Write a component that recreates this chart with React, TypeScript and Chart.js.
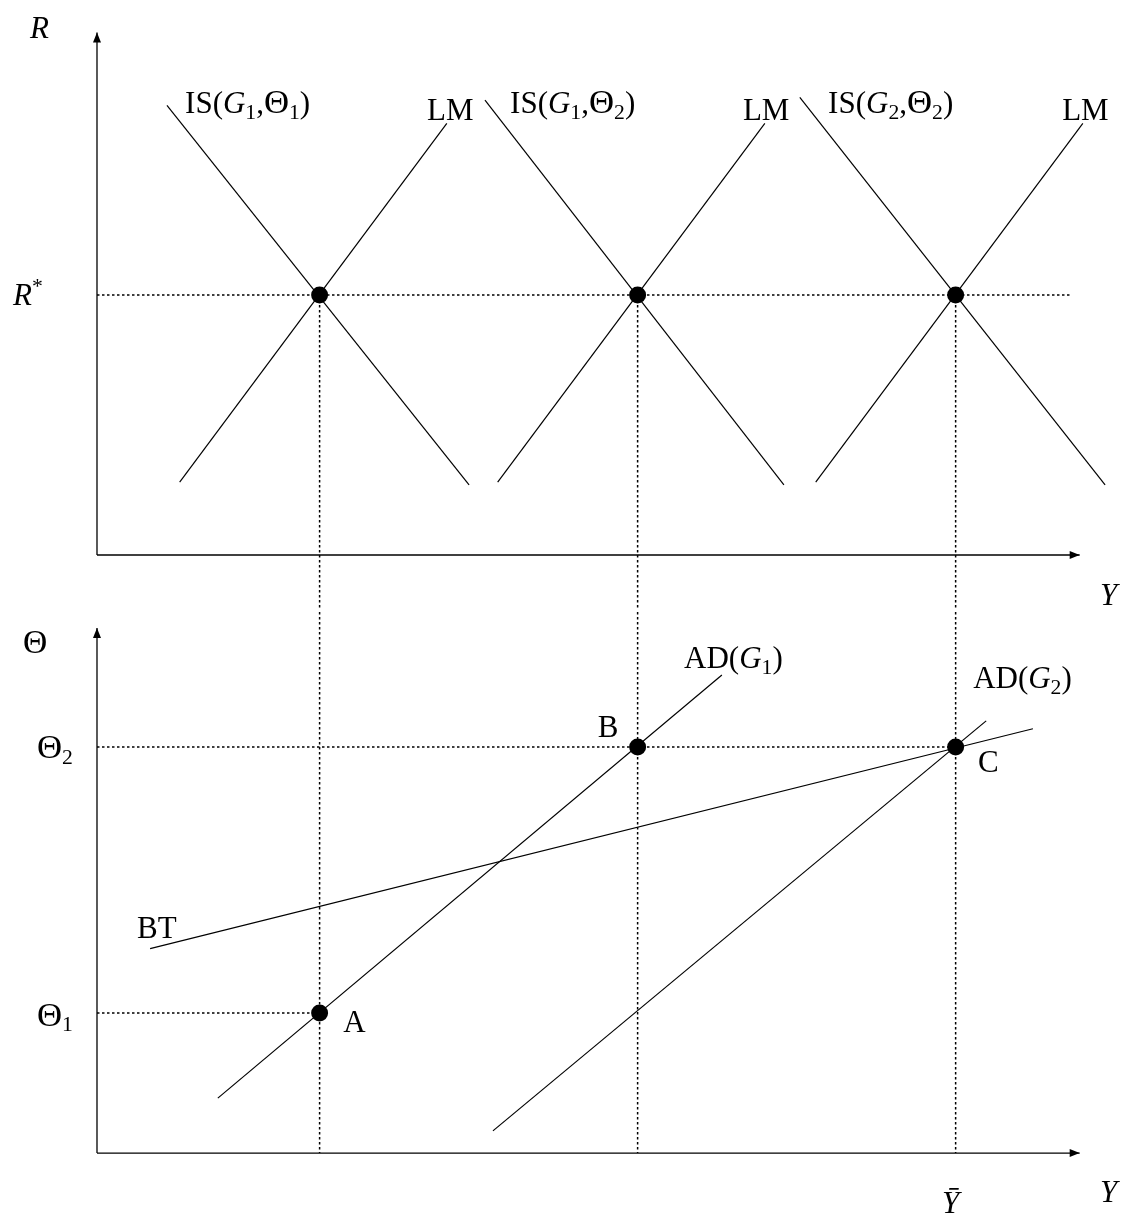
import { useEffect, useRef } from "react";
import { Chart, registerables } from "chart.js";

Chart.register(...registerables);

// Equilibrium output levels (A, B, C), world rate and terms of trade
const outputLevels = [7, 17, 27];
const rStar = 10;
const theta1 = 5;
const theta2 = 14.5;

// IS–LM panel curves
const isG1T1 = [{ x: 2.2, y: 17.3 }, { x: 11.7, y: 2.7 }];
const isG1T2 = [{ x: 12.2, y: 17.5 }, { x: 21.6, y: 2.7 }];
const isG2T2 = [{ x: 22.1, y: 17.6 }, { x: 31.7, y: 2.7 }];
const lm1 = [{ x: 2.6, y: 2.8 }, { x: 11.0, y: 16.6 }];
const lm2 = [{ x: 12.6, y: 2.8 }, { x: 21.0, y: 16.6 }];
const lm3 = [{ x: 22.6, y: 2.8 }, { x: 31.0, y: 16.6 }];
const rStarEnd = 30.6;

// AD–BT panel curves
const adG1 = [{ x: 3.8, y: 1.96 }, { x: 19.65, y: 17.07 }];
const adG2 = [{ x: 12.45, y: 0.79 }, { x: 27.96, y: 15.43 }];
const bt = [{ x: 1.67, y: 7.3 }, { x: 29.43, y: 15.15 }];

const FONT = "'Liberation Serif', 'DejaVu Serif', serif";

type Seg = { t: string; it?: boolean; sub?: boolean; sup?: boolean; big?: boolean };
type Label = { segs: Seg[]; x: number; y: number; size: number };

const up = (t: string): Seg => ({ t });
const it = (t: string): Seg => ({ t, it: true });
const sub = (t: string): Seg => ({ t, sub: true });
const th = (): Seg => ({ t: "Θ", big: true });

const topLabels: Label[] = [
  { segs: [it("R")], x: -2.11, y: 19.88, size: 31 },
  { segs: [it("R"), { t: "*", sup: true }], x: -2.64, y: 9.62, size: 31 },
  { segs: [up("IS("), it("G"), sub("1"), up(","), th(), sub("1"), up(")")], x: 2.77, y: 17.0, size: 31 },
  { segs: [up("LM")], x: 10.38, y: 16.73, size: 31 },
  { segs: [up("IS("), it("G"), sub("1"), up(","), th(), sub("2"), up(")")], x: 12.99, y: 17.0, size: 31 },
  { segs: [up("LM")], x: 20.31, y: 16.73, size: 31 },
  { segs: [up("IS("), it("G"), sub("2"), up(","), th(), sub("2"), up(")")], x: 22.99, y: 17.0, size: 31 },
  { segs: [up("LM")], x: 30.35, y: 16.73, size: 31 },
  { segs: [it("Y")], x: 31.54, y: -1.92, size: 31 },
];

const bottomLabels: Label[] = [
  { segs: [th()], x: -2.33, y: 17.86, size: 30 },
  { segs: [th(), sub("2")], x: -1.89, y: 14.1, size: 31 },
  { segs: [th(), sub("1")], x: -1.89, y: 4.54, size: 31 },
  { segs: [up("A")], x: 7.74, y: 4.32, size: 31 },
  { segs: [up("B")], x: 15.75, y: 14.86, size: 31 },
  { segs: [up("C")], x: 27.7, y: 13.6, size: 31 },
  { segs: [up("AD("), it("G"), sub("1"), up(")")], x: 18.46, y: 17.32, size: 31 },
  { segs: [up("AD("), it("G"), sub("2"), up(")")], x: 27.55, y: 16.6, size: 31 },
  { segs: [up("BT")], x: 1.26, y: 7.68, size: 31 },
  { segs: [it("Ȳ")], x: 26.57, y: -2.14, size: 31 },
  { segs: [it("Y")], x: 31.54, y: -1.75, size: 31 },
];

function drawRich(ctx: CanvasRenderingContext2D, segs: Seg[], x: number, y: number, size: number) {
  let cx = x;
  ctx.fillStyle = "#000";
  ctx.textBaseline = "alphabetic";
  ctx.textAlign = "left";
  for (const s of segs) {
    const small = s.sub || s.sup;
    const fs = small ? size * 0.7 : s.big ? size * 1.12 : size;
    ctx.font = `${s.it ? "italic " : ""}${fs}px ${FONT}`;
    const dy = s.sub ? size * 0.18 : s.sup ? -size * 0.4 : 0;
    ctx.fillText(s.t, cx, y + dy);
    cx += ctx.measureText(s.t).width;
  }
}

function arrow(ctx: CanvasRenderingContext2D, x0: number, y0: number, x1: number, y1: number) {
  ctx.save();
  ctx.strokeStyle = "#000";
  ctx.fillStyle = "#000";
  ctx.lineWidth = 1.3;
  ctx.beginPath();
  ctx.moveTo(x0, y0);
  ctx.lineTo(x1, y1);
  ctx.stroke();
  const a = Math.atan2(y1 - y0, x1 - x0);
  const L = 10;
  const W = 4;
  ctx.beginPath();
  ctx.moveTo(x1, y1);
  ctx.lineTo(x1 - L * Math.cos(a) + W * Math.sin(a), y1 - L * Math.sin(a) - W * Math.cos(a));
  ctx.lineTo(x1 - L * Math.cos(a) - W * Math.sin(a), y1 - L * Math.sin(a) + W * Math.cos(a));
  ctx.closePath();
  ctx.fill();
  ctx.restore();
}

type Panel = {
  xMin: number;
  xMax: number;
  yMin: number;
  yMax: number;
  xAxisEnd: number;
  yAxisEnd: number;
  labels: Label[];
  datasets: any[];
};

const solid = (data: { x: number; y: number }[]) => ({
  data,
  showLine: true,
  borderColor: "#000",
  borderWidth: 1.2,
  pointRadius: 0,
  fill: false,
});
const dotted = (data: { x: number; y: number }[]) => ({
  ...solid(data),
  borderWidth: 1.5,
  borderDash: [2.5, 2.5],
});
const dots = (data: { x: number; y: number }[]) => ({
  data,
  showLine: false,
  pointRadius: 8.5,
  pointBackgroundColor: "#000",
  pointBorderColor: "#000",
  pointBorderWidth: 0,
});

// x mapping shared by both panels
const X_MIN = -3.05;
const X_MAX = 32.42;

const topPanel: Panel = {
  xMin: X_MIN,
  xMax: X_MAX,
  yMin: -2.115,
  yMax: 21.35,
  xAxisEnd: 30.9,
  yAxisEnd: 20.1,
  labels: topLabels,
  datasets: [
    ...outputLevels.map((y) => dotted([{ x: y, y: rStar }, { x: y, y: -2.2 }])),
    dotted([{ x: 0, y: rStar }, { x: rStarEnd, y: rStar }]),
    solid(isG1T1),
    solid(isG1T2),
    solid(isG2T2),
    solid(lm1),
    solid(lm2),
    solid(lm3),
    dots(outputLevels.map((y) => ({ x: y, y: rStar }))),
  ],
};

const bottomPanel: Panel = {
  xMin: X_MIN,
  xMax: X_MAX,
  yMin: -2.32,
  yMax: 19.39,
  xAxisEnd: 30.9,
  yAxisEnd: 18.75,
  labels: bottomLabels,
  datasets: [
    ...outputLevels.map((y) => dotted([{ x: y, y: 19.5 }, { x: y, y: 0 }])),
    dotted([{ x: 0, y: theta2 }, { x: outputLevels[2], y: theta2 }]),
    dotted([{ x: 0, y: theta1 }, { x: outputLevels[0], y: theta1 }]),
    solid(adG1),
    solid(adG2),
    solid(bt),
    dots([
      { x: outputLevels[0], y: theta1 },
      { x: outputLevels[1], y: theta2 },
      { x: outputLevels[2], y: theta2 },
    ]),
  ],
};

function PanelChart({ panel, top, height }: { panel: Panel; top: number; height: number }) {
  const ref = useRef<HTMLCanvasElement | null>(null);
  useEffect(() => {
    if (!ref.current) return;
    const axesPlugin = {
      id: "axesAndText",
      beforeDatasetsDraw(chart: any) {
        const { ctx, scales } = chart;
        const xs = scales.x;
        const ys = scales.y;
        const ox = xs.getPixelForValue(0);
        const oy = ys.getPixelForValue(0);
        arrow(ctx, ox, oy, xs.getPixelForValue(panel.xAxisEnd), oy);
        arrow(ctx, ox, oy, ox, ys.getPixelForValue(panel.yAxisEnd));
      },
      afterDatasetsDraw(chart: any) {
        const { ctx, scales } = chart;
        for (const l of panel.labels) {
          drawRich(ctx, l.segs, scales.x.getPixelForValue(l.x), scales.y.getPixelForValue(l.y), l.size);
        }
      },
    };
    const chart = new Chart(ref.current, {
      type: "scatter",
      data: { datasets: panel.datasets },
      options: {
        responsive: false,
        animation: false,
        devicePixelRatio: 1,
        layout: { padding: 0, autoPadding: false },
        plugins: { legend: { display: false }, tooltip: { enabled: false } },
        elements: { line: { tension: 0 } },
        scales: {
          x: { type: "linear", display: false, min: panel.xMin, max: panel.xMax },
          y: { type: "linear", display: false, min: panel.yMin, max: panel.yMax },
        },
      } as any,
      plugins: [axesPlugin],
    });
    return () => chart.destroy();
  }, [panel]);
  return (
    <canvas
      ref={ref}
      width={1128}
      height={height}
      style={{ position: "absolute", left: 0, top, width: 1128, height }}
    />
  );
}

export default function App() {
  return (
    <div style={{ position: "absolute", left: 0, top: 0, width: 1128, height: 1218, background: "#fff" }}>
      <PanelChart panel={topPanel} top={0} height={610} />
      <PanelChart panel={bottomPanel} top={610} height={608} />
    </div>
  );
}
